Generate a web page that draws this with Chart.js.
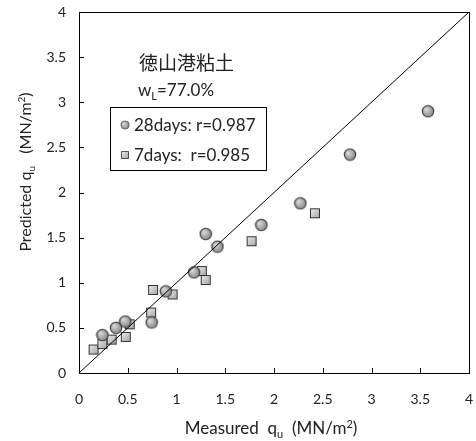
<!DOCTYPE html>
<html>
<head>
<meta charset="utf-8">
<script src="https://cdn.jsdelivr.net/npm/chart.js@4.4.0/dist/chart.umd.min.js"></script>
<style>
  html, body { margin: 0; padding: 0; background: #fff; }
</style>
</head>
<body>
<canvas id="quChart" width="476" height="441"></canvas>
<script>
// measured vs predicted unconfined compression strength (MN/m2)
const measured28 = [0.24, 0.38, 0.475, 0.745, 0.89, 1.18, 1.30, 1.42, 1.87, 2.27, 2.78, 3.58];
const predicted28 = [0.42, 0.50, 0.57, 0.56, 0.905, 1.115, 1.54, 1.40, 1.64, 1.88, 2.42, 2.90];
const measured7 = [0.15, 0.24, 0.335, 0.48, 0.52, 0.74, 0.76, 0.96, 1.26, 1.30, 1.77, 2.42];
const predicted7 = [0.26, 0.32, 0.37, 0.40, 0.54, 0.67, 0.92, 0.87, 1.13, 1.03, 1.46, 1.77];
const seriesLabels = ['28days: r=0.987', '7days:  r=0.985'];
const axisMin = 0;
const axisMax = 4;
const tickStep = 0.5;

const FONT = 'Lato, "Open Sans", sans-serif';

// marker sprites with a soft grey shading
function makeCircle() {
  const c = document.createElement('canvas');
  c.width = 14; c.height = 14;
  const g = c.getContext('2d');
  const grad = g.createRadialGradient(5, 5, 1, 7, 7, 7);
  grad.addColorStop(0, '#d4d4d4');
  grad.addColorStop(1, '#7a7a7a');
  g.beginPath();
  g.arc(7, 7, 5.7, 0, Math.PI * 2);
  g.fillStyle = grad;
  g.fill();
  g.lineWidth = 1.1;
  g.strokeStyle = '#3a3a3a';
  g.stroke();
  return c;
}

function makeSquare() {
  const c = document.createElement('canvas');
  c.width = 12; c.height = 12;
  const g = c.getContext('2d');
  const grad = g.createLinearGradient(1, 1, 11, 11);
  grad.addColorStop(0, '#f0f0f0');
  grad.addColorStop(1, '#a0a0a0');
  g.fillStyle = grad;
  g.fillRect(1.5, 1.5, 9, 9);
  g.lineWidth = 1;
  g.strokeStyle = '#333';
  g.strokeRect(1.5, 1.5, 9, 9);
  return c;
}

const circleImg = makeCircle();
const squareImg = makeSquare();

function toPoints(xs, ys) {
  return xs.map((x, i) => ({ x: x, y: ys[i] }));
}

// text with sub/superscript pieces
function richWidth(ctx, parts, size) {
  let w = 0;
  parts.forEach(p => {
    ctx.font = (p.sub || p.sup ? Math.round(size * 0.65) : size) + 'px ' + FONT;
    w += ctx.measureText(p.t).width;
  });
  return w;
}

function drawRich(ctx, parts, x, y, size) {
  let cx = x;
  ctx.textBaseline = 'alphabetic';
  ctx.textAlign = 'left';
  parts.forEach(p => {
    const small = p.sub || p.sup;
    ctx.font = (small ? Math.round(size * 0.65) : size) + 'px ' + FONT;
    let dy = 0;
    if (p.sub) dy = size * 0.22;
    if (p.sup) dy = -size * 0.38;
    ctx.fillText(p.t, cx, y + dy);
    cx += ctx.measureText(p.t).width;
  });
}

const decorPlugin = {
  id: 'decor',
  afterDraw(chart) {
    const ctx = chart.ctx;
    const a = chart.chartArea;
    const xs = chart.scales.x;
    const ys = chart.scales.y;
    ctx.save();

    // frame
    ctx.strokeStyle = '#000';
    ctx.lineWidth = 1;
    ctx.strokeRect(Math.round(a.left) + 0.5, Math.round(a.top) + 0.5,
      Math.round(a.right - a.left), Math.round(a.bottom - a.top));

    // inward tick marks
    ctx.beginPath();
    xs.ticks.forEach(t => {
      const px = Math.round(xs.getPixelForValue(t.value)) + 0.5;
      ctx.moveTo(px, a.bottom);
      ctx.lineTo(px, a.bottom - 5);
    });
    ys.ticks.forEach(t => {
      const py = Math.round(ys.getPixelForValue(t.value)) + 0.5;
      ctx.moveTo(a.left, py);
      ctx.lineTo(a.left + 5, py);
    });
    ctx.stroke();

    ctx.fillStyle = '#222';

    // axis titles
    const xTitle = [{ t: 'Measured  q' }, { t: 'u', sub: true }, { t: '  (MN/m' }, { t: '2', sup: true }, { t: ')' }];
    const xw = richWidth(ctx, xTitle, 17);
    drawRich(ctx, xTitle, 271 - xw / 2, 434, 17);

    const yTitle = [{ t: 'Predicted q' }, { t: 'u', sub: true }, { t: '   (MN/m' }, { t: '2', sup: true }, { t: ')' }];
    const yw = richWidth(ctx, yTitle, 16);
    ctx.save();
    ctx.translate(31, 172);
    ctx.rotate(-Math.PI / 2);
    drawRich(ctx, yTitle, -yw / 2, 0, 16);
    ctx.restore();

    // soil name and liquid limit
    ctx.font = '19px "Noto Sans CJK JP", sans-serif';
    ctx.textBaseline = 'middle';
    ctx.fillText('徳山港粘土', 139, 63);
    drawRich(ctx, [{ t: 'w' }, { t: 'L', sub: true }, { t: '=77.0%' }], 138, 96, 17);

    // legend box
    ctx.strokeStyle = '#000';
    ctx.strokeRect(110.5, 107.5, 156, 63);
    const imgs = [circleImg, squareImg];
    const sizes = [10, 9];
    const rows = [125, 155];
    rows.forEach((ry, i) => {
      const s = sizes[i];
      ctx.drawImage(imgs[i], 125 - s / 2, ry - s / 2, s, s);
      ctx.font = '17px ' + FONT;
      ctx.textBaseline = 'middle';
      ctx.fillText(seriesLabels[i], 134, ry + 1);
    });

    ctx.restore();
  }
};

const tickFont = { family: FONT, size: 14 };
const tickLabel = v => String(v);

new Chart(document.getElementById('quChart'), {
  type: 'scatter',
  data: {
    datasets: [
      {
        type: 'line',
        label: '1:1',
        data: [{ x: axisMin, y: axisMin }, { x: axisMax, y: axisMax }],
        borderColor: '#000',
        borderWidth: 1,
        pointRadius: 0,
        order: 0
      },
      {
        label: seriesLabels[0],
        data: toPoints(measured28, predicted28),
        pointStyle: circleImg,
        order: 1
      },
      {
        label: seriesLabels[1],
        data: toPoints(measured7, predicted7),
        pointStyle: squareImg,
        order: 2
      }
    ]
  },
  options: {
    responsive: false,
    animation: false,
    devicePixelRatio: 1,
    layout: { padding: { top: 12, right: 7, left: 0, bottom: 0 } },
    plugins: {
      legend: { display: false },
      tooltip: { enabled: false }
    },
    scales: {
      x: {
        type: 'linear',
        min: axisMin,
        max: axisMax,
        grid: { display: false, drawTicks: false },
        border: { display: false },
        ticks: { stepSize: tickStep, font: tickFont, color: '#222', padding: 18, maxRotation: 0, callback: tickLabel },
        afterFit(scale) {
          scale.height = 68;
          scale.paddingLeft = 0;
          scale.paddingRight = 0;
        }
      },
      y: {
        type: 'linear',
        min: axisMin,
        max: axisMax,
        grid: { display: false, drawTicks: false },
        border: { display: false },
        ticks: { stepSize: tickStep, font: tickFont, color: '#222', padding: 13, callback: tickLabel },
        afterFit(scale) {
          scale.width = 79;
          scale.paddingTop = 0;
          scale.paddingBottom = 0;
        }
      }
    }
  },
  plugins: [decorPlugin]
});
</script>
</body>
</html>
